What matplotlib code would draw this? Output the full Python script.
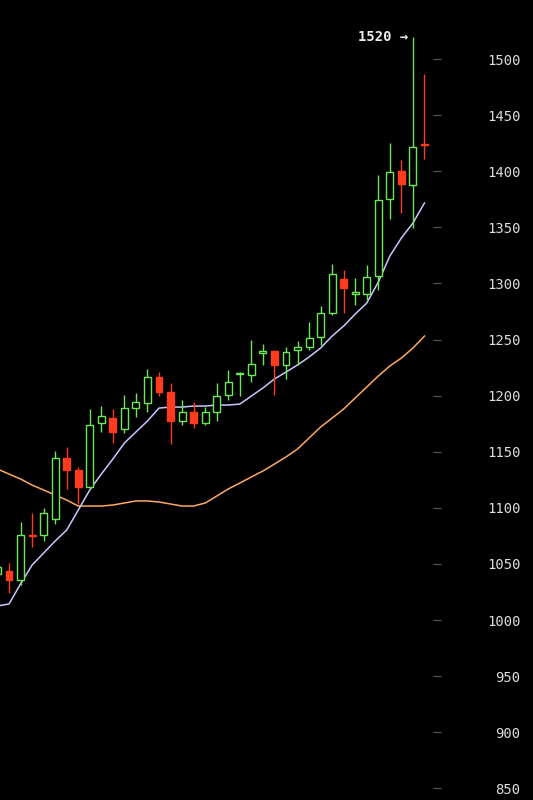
import matplotlib
matplotlib.use("Agg")
import matplotlib.pyplot as plt
import numpy as np

# ---- data ----
opens  = [1041, 1044, 1036, 1076, 1076, 1090, 1144, 1134, 1119, 1176,
          1180, 1170, 1189, 1193, 1217, 1203, 1177, 1185, 1176, 1185,
          1201, 1219, 1218, 1238, 1240, 1227, 1241, 1243, 1252, 1274,
          1304, 1291, 1291, 1307, 1375, 1400, 1388, 1424]
highs  = [1052, 1051, 1087, 1095, 1100, 1151, 1154, 1136, 1188, 1191,
          1188, 1201, 1202, 1224, 1221, 1211, 1196, 1194, 1190, 1211,
          1223, 1221, 1250, 1246, 1241, 1243, 1249, 1266, 1280, 1317,
          1312, 1305, 1316, 1397, 1425, 1410, 1520, 1487]
lows   = [1034, 1024, 1031, 1065, 1070, 1086, 1117, 1103, 1118, 1168,
          1158, 1167, 1181, 1185, 1200, 1157, 1174, 1171, 1174, 1177,
          1196, 1200, 1212, 1227, 1201, 1215, 1227, 1241, 1245, 1272,
          1274, 1281, 1285, 1294, 1357, 1363, 1349, 1411]
closes = [1047, 1036, 1076, 1075, 1095, 1144, 1134, 1119, 1174, 1182,
          1168, 1189, 1194, 1217, 1203, 1177, 1185, 1176, 1185, 1200,
          1212, 1220, 1228, 1240, 1227, 1239, 1243, 1251, 1274, 1308,
          1296, 1292, 1306, 1374, 1399, 1389, 1422, 1423]
ma_short = [1012.5, 1014.3, 1032.1, 1049.0, 1059.7, 1070.4, 1080.2, 1098.0, 1115.9, 1130.1,
            1143.5, 1157.8, 1167.6, 1177.4, 1188.9, 1189.8, 1189.8, 1190.7, 1190.7, 1191.6,
            1191.6, 1192.5, 1199.6, 1206.8, 1214.8, 1221.0, 1227.3, 1234.4, 1242.4, 1253.1,
            1262.0, 1272.7, 1282.5, 1301.2, 1324.4, 1340.5, 1353.8, 1371.7]
ma_long = [1134.6, 1130.1, 1125.7, 1120.3, 1115.9, 1111.4, 1106.9, 1101.6, 1101.6, 1101.6,
           1102.5, 1104.3, 1106.1, 1106.1, 1105.2, 1103.4, 1101.6, 1101.6, 1104.3, 1110.5,
           1116.8, 1122.1, 1127.5, 1132.8, 1139.0, 1145.3, 1152.4, 1162.2, 1172.0, 1180.0,
           1188.1, 1197.9, 1207.7, 1217.5, 1226.4, 1233.5, 1242.4, 1253.1]
yticks = [850, 900, 950, 1000, 1050, 1100, 1150, 1200, 1250, 1300, 1350, 1400, 1450, 1500]

# ---- style ----
UP = '#6ee65a'
DOWN = '#ff3b1f'
BG = 'black'

W, H = 533, 800
fig = plt.figure(figsize=(W / 100, H / 100), dpi=100, facecolor=BG)
ax = fig.add_axes([0, 0, 433 / W, 1], facecolor=BG)

o = np.array(opens, float)
h = np.array(highs, float)
l = np.array(lows, float)
c = np.array(closes, float)
x = np.arange(len(o))
up = c >= o

# moving averages
ax.plot(x, ma_long, color='#ffa860', lw=1.1, zorder=1)
ax.plot(x, ma_short, color='#c8c8ff', lw=1.1, zorder=1)

# wicks
ax.vlines(x[up], l[up], h[up], color=UP, lw=1.0, zorder=2)
ax.vlines(x[~up], l[~up], h[~up], color=DOWN, lw=1.0, zorder=2)

# bodies
bw = 0.6
bot = np.minimum(o, c)
hgt = np.abs(c - o)
ax.bar(x[up], hgt[up], bottom=bot[up], width=bw, facecolor=BG,
       edgecolor=UP, linewidth=1.0, zorder=3)
ax.bar(x[~up], hgt[~up], bottom=bot[~up], width=bw, facecolor=DOWN,
       edgecolor=DOWN, linewidth=1.0, zorder=3)

# annotation at the highest high
imax = int(np.argmax(h))
ax.annotate(f"{h[imax]:.0f} \u2192", xy=(x[imax], h[imax]), xytext=(-5, 0),
            textcoords='offset pixels', ha='right', va='center',
            fontsize=10, fontweight='bold', family='DejaVu Sans Mono',
            color='#ececec', zorder=5)

# axes / scale
ax.set_xlim(0.22, 37.74)
ax.set_ylim(839.6, 1552.6)
for s in ax.spines.values():
    s.set_visible(False)
ax.set_xticks([])
ax.yaxis.tick_right()
ax.set_yticks(yticks)
ax.set_yticklabels([str(v) for v in yticks])
ax.tick_params(axis='y', direction='out', length=6, width=0.8, color='#5a5a5a',
               pad=57, labelcolor='#dcdcdc', labelsize=10)
for t in ax.get_yticklabels():
    t.set_horizontalalignment('right')
    t.set_family('DejaVu Sans Mono')

fig.savefig('out.png', dpi=100, facecolor=BG)
